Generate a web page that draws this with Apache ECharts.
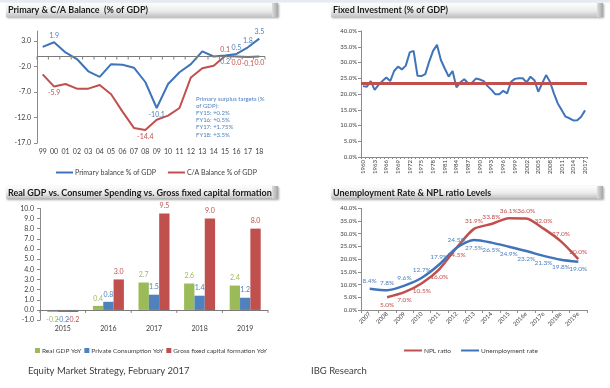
<!DOCTYPE html>
<html><head><meta charset="utf-8">
<script src="https://cdn.jsdelivr.net/npm/echarts@6.0.0/dist/echarts.min.js"></script>
<style>html,body{margin:0;padding:0;background:#fff;}#chart{width:610px;height:388px;}</style>
</head><body><div id="chart"></div>
<script>
// ---- Panel 1: Primary & C/A balance (% of GDP)
const balYears = ['99','00','01','02','03','04','05','06','07','08','09','10','11','12','13','14','15','16','17','18'];
const primaryBalance = [1.9, 2.8, 0.8, -0.5, -2.9, -4.0, -1.5, -1.6, -2.2, -5.0, -10.1, -5.4, -3.1, -1.5, 1.0, 0.0, 0.2, 0.5, 1.8, 3.5];
const primaryLabels = ['', '1.9', '', '', '', '', '', '', '', '', '-10.1', '', '', '', '', '', '0.2', '0.5', '1.8', '3.5'];
const caBalance = [-3.5, -5.9, -5.4, -6.3, -6.3, -5.6, -7.4, -10.8, -14.0, -14.4, -12.4, -11.6, -10.1, -4.1, -2.3, -1.8, 0.1, 0.0, -0.1, 0.0];
const caLabels = ['', '-5.9', '', '', '', '', '', '', '', '-14.4', '', '', '', '', '', '', '0.1', '0.0', '-0.1', '0.0'];
const balTicks = [-17, -12, -7, -2, 3];
const zeroTick = [0];
const targetNote = ['Primary surplus targets (%', 'of GDP):', 'FY15: +0.2%', 'FY16: +0.5%', 'FY17: +1.75%', 'FY18: +3.5%'];

// ---- Panel 2: Fixed investment (% of GDP)
const fiYears = ['1960','1961','1962','1963','1964','1965','1966','1967','1968','1969',
  '1970','1971','1972','1973','1974','1975','1976','1977','1978','1979',
  '1980','1981','1982','1983','1984','1985','1986','1987','1988','1989',
  '1990','1991','1992','1993','1994','1995','1996','1997','1998','1999',
  '2000','2001','2002','2003','2004','2005','2006','2007','2008','2009',
  '2010','2011','2012','2013','2014','2015','2016','2017'];
const fixedInvestment = [22.5, 22.3, 24.1, 21.3, 22.9, 24.1, 25.2, 24.1, 27.3, 28.7,
  27.8, 29.0, 33.2, 33.7, 25.8, 25.7, 26.3, 30.3, 33.7, 35.6,
  30.8, 28.1, 25.5, 27.3, 22.1, 23.7, 24.7, 23.4, 23.6, 24.9,
  24.6, 24.1, 22.5, 21.3, 19.9, 19.9, 21.0, 20.2, 23.9, 24.8,
  25.0, 25.0, 23.7, 25.5, 24.4, 20.7, 23.4, 26.0, 23.9, 20.2,
  17.0, 14.9, 12.8, 12.3, 11.6, 11.7, 12.8, 14.8];
const fiAverage = 23.3;

// ---- Panel 3: Real GDP vs consumer spending vs GFCF
const gdpYears = ['2015', '2016', '2017', '2018', '2019'];
const realGdp = [-0.2, 0.4, 2.7, 2.6, 2.4];
const privateConsumption = [-0.2, 0.8, 1.5, 1.4, 1.2];
const grossFixedCapital = [-0.2, 3.0, 9.5, 9.0, 8.0];

// ---- Panel 4: Unemployment rate & NPL ratio
const unYears = ['2007','2008','2009','2010','2011','2012','2013','2014','2015','2016e','2017e','2018e','2019e'];
const nplRatio = [null, 5.0, 7.0, 10.5, 16.0, 24.5, 31.9, 33.8, 36.1, 36.0, 32.0, 27.0, 20.0];
const unemploymentRate = [8.4, 7.8, 9.6, 12.7, 17.9, 24.5, 27.5, 26.5, 24.9, 23.2, 21.3, 19.8, 19.0];

// ---- Footer texts
const footerLeft = 'Equity Market Strategy, February 2017';
const footerRight = 'IBG Research';

const FONT = 'Lato, "Open Sans", "DejaVu Sans", sans-serif';
const AX = '#8c8c8c', TXT = '#404040';
const BLUE = '#3f74ba', RED = '#c0504d', GREEN = '#9bbb59', BBLUE = '#4f81bd';

function pointLabels(values, texts, posOf, color) {
  return values.map((v, i) => {
    if (!texts[i]) return v;
    return { value: v, label: { show: true, position: posOf(i), formatter: texts[i], color: color, fontSize: 7, distance: 3 } };
  });
}
function barItems(values) {
  return values.map(v => ({ value: v, label: { position: v < 0 ? 'bottom' : 'top' } }));
}
function pctItems(values, posOf) {
  return values.map((v, i) => v == null ? null : { value: v, label: { position: posOf(i) } });
}
function titleBar(x, y, w, h, text) {
  return { type: 'group', children: [
    { type: 'rect', shape: { x: x, y: y, width: w, height: h },
      style: { fill: new echarts.graphic.LinearGradient(0, 0, 0, 1, [
        { offset: 0, color: '#fdfdfd' }, { offset: 0.55, color: '#ececec' }, { offset: 1, color: '#c2c2c2' }]),
        shadowBlur: 2, shadowColor: 'rgba(0,0,0,0.35)', shadowOffsetX: 1, shadowOffsetY: 1 } },
    { type: 'rect', shape: { x: x + w - 6, y: y, width: 6, height: h },
      style: { fill: new echarts.graphic.LinearGradient(0, 0, 1, 0, [
        { offset: 0, color: '#dedede' }, { offset: 1, color: '#a5a5a5' }]) } },
    { type: 'text', style: { text: text, x: x + 2, y: y + h / 2 + 0.5, verticalAlign: 'middle',
      font: 'bold 9px ' + FONT, fill: '#1a1a1a' } }
  ] };
}
// category-boundary ticks hanging below the zero line, placed through the chart's scales
function zeroTickSeries(cats, xIdx, yIdx) {
  const n = cats.length;
  return {
    type: 'custom', xAxisIndex: xIdx, yAxisIndex: yIdx, silent: true, z: 5,
    data: cats.map((c, i) => [i, 0]),
    renderItem: function (params, api) {
      const p = api.coord([api.value(0), 0]);
      const w = api.size([1, 0])[0];
      const x0 = p[0] - w / 2, x1 = p[0] + w / 2;
      const st = { stroke: '#7f7f7f', lineWidth: 1 };
      const kids = [{ type: 'line', shape: { x1: x0, y1: p[1], x2: x0, y2: p[1] + 3 }, style: st }];
      if (params.dataIndex === n - 1) kids.push({ type: 'line', shape: { x1: x1, y1: p[1], x2: x1, y2: p[1] + 3 }, style: st });
      return { type: 'group', children: kids };
    }
  };
}
function zeroLine() {
  return { silent: true, symbol: ['none', 'none'], label: { show: false },
    lineStyle: { color: '#7a7a7a', width: 1, type: 'solid' }, data: [{ yAxis: 0 }] };
}
// hidden helper value axis whose only split line sits at zero
function zeroAxis(gridIndex, min, max) {
  return { gridIndex: gridIndex, type: 'value', min: min, max: max, position: 'right',
    axisLine: { show: false }, axisLabel: { show: false },
    axisTick: { show: false, customValues: zeroTick },
    splitLine: { show: true, lineStyle: { color: '#7a7a7a', width: 1, type: 'solid' } } };
}

const chart = echarts.init(document.getElementById('chart'));
const axisLbl = (size) => ({ fontSize: size, color: TXT, fontFamily: FONT });

chart.setOption({
  animation: false,
  textStyle: { fontFamily: FONT },
  grid: [
    { left: 37, top: 31, width: 228, height: 112.2 },
    { left: 361, top: 31, width: 226, height: 126 },
    { left: 40, top: 208.3, width: 228, height: 111.8 },
    { left: 361, top: 208.3, width: 226, height: 101.7 }
  ],
  xAxis: [
    { gridIndex: 0, type: 'category', data: balYears, position: 'bottom',
      axisLine: { show: false, onZero: false }, axisTick: { show: false },
      axisLabel: Object.assign(axisLbl(7), { interval: 0, margin: 5 }) },
    { gridIndex: 1, type: 'category', data: fiYears, position: 'bottom',
      axisLine: { lineStyle: { color: AX } },
      axisTick: { show: true, interval: 0, length: 2, lineStyle: { color: AX } },
      axisLabel: Object.assign(axisLbl(6), { interval: 2, rotate: 90, margin: 3 }) },
    { gridIndex: 2, type: 'category', data: gdpYears, position: 'bottom',
      axisLine: { show: false, onZero: false }, axisTick: { show: false },
      axisLabel: Object.assign(axisLbl(7), { margin: 5 }) },
    { gridIndex: 3, type: 'category', data: unYears, position: 'bottom',
      axisLine: { lineStyle: { color: AX } },
      axisTick: { show: true, length: 3, lineStyle: { color: AX } },
      axisLabel: Object.assign(axisLbl(6), { interval: 0, rotate: 45, margin: 3 }) }
  ],
  yAxis: [
    { gridIndex: 0, type: 'value', min: -17, max: 5,
      axisLine: { show: true, lineStyle: { color: AX } },
      axisTick: { show: true, length: 3, customValues: balTicks, lineStyle: { color: AX } },
      splitLine: { show: false },
      axisLabel: Object.assign(axisLbl(7), { customValues: balTicks, margin: 6, formatter: v => v.toFixed(1) }) },
    { gridIndex: 1, type: 'value', min: 0, max: 40, interval: 5,
      axisLine: { show: true, lineStyle: { color: AX } },
      axisTick: { show: true, length: 3, lineStyle: { color: AX } },
      splitLine: { show: false },
      axisLabel: Object.assign(axisLbl(6), { margin: 4, formatter: v => v.toFixed(1) + '%' }) },
    { gridIndex: 2, type: 'value', min: -1, max: 10, interval: 1,
      axisLine: { show: true, lineStyle: { color: AX } },
      axisTick: { show: true, length: 3, lineStyle: { color: AX } },
      splitLine: { show: false },
      axisLabel: Object.assign(axisLbl(7), { margin: 6, formatter: v => v.toFixed(1) }) },
    { gridIndex: 3, type: 'value', min: 0, max: 40, interval: 5,
      axisLine: { show: true, lineStyle: { color: AX } },
      axisTick: { show: true, length: 3, lineStyle: { color: AX } },
      splitLine: { show: false },
      axisLabel: Object.assign(axisLbl(6), { margin: 4, formatter: v => v.toFixed(1) + '%' }) },
    zeroAxis(0, -17, 5),
    zeroAxis(2, -1, 10)
  ],
  legend: [
    { data: [{ name: 'Primary balance % of GDP', itemStyle: { color: BLUE } }, { name: 'C/A Balance % of GDP', itemStyle: { color: RED } }],
      left: 51, top: 164, icon: 'rect', itemWidth: 17, itemHeight: 2, itemGap: 12,
      textStyle: { fontSize: 7, color: TXT, fontFamily: FONT, padding: [0, 0, 0, -3] } },
    { data: ['Real GDP YoY', 'Private Consumption YoY', 'Gross fixed capital formation YoY'],
      left: 30, top: 342, icon: 'rect', itemWidth: 5, itemHeight: 5, itemGap: 3,
      textStyle: { fontSize: 6.5, color: TXT, fontFamily: FONT, padding: [0, 0, 0, -3] } },
    { data: [{ name: 'NPL ratio', itemStyle: { color: RED } }, { name: 'Unemployment rate', itemStyle: { color: BLUE } }],
      left: 399, top: 342, icon: 'rect', itemWidth: 18, itemHeight: 2, itemGap: 10,
      textStyle: { fontSize: 6.5, color: TXT, fontFamily: FONT, padding: [0, 0, 0, -3] } }
  ],
  series: [
    { name: 'Primary balance % of GDP', type: 'line', xAxisIndex: 0, yAxisIndex: 0,
      data: pointLabels(primaryBalance, primaryLabels, i => (i === 10 || i === 16) ? 'bottom' : 'top', '#4f81bd'),
      symbol: 'circle', symbolSize: 0, lineStyle: { color: BLUE, width: 2 }, itemStyle: { color: BLUE }, z: 4,
      markLine: zeroLine() },
    { name: 'C/A Balance % of GDP', type: 'line', xAxisIndex: 0, yAxisIndex: 0,
      data: pointLabels(caBalance, caLabels, i => i === 16 ? 'top' : 'bottom', RED),
      symbol: 'circle', symbolSize: 0, lineStyle: { color: RED, width: 2 }, itemStyle: { color: RED }, z: 3 },
    { name: 'Fixed investment', type: 'line', xAxisIndex: 1, yAxisIndex: 1, data: fixedInvestment,
      symbol: 'none', lineStyle: { color: BLUE, width: 2 }, itemStyle: { color: BLUE },
      markLine: { silent: true, symbol: ['none', 'none'], label: { show: false },
        lineStyle: { color: RED, width: 3, type: 'solid' }, data: [{ yAxis: fiAverage }] } },
    { name: 'Real GDP YoY', type: 'bar', xAxisIndex: 2, yAxisIndex: 2, data: barItems(realGdp),
      itemStyle: { color: GREEN }, barGap: '0%', barCategoryGap: '32%', z: 2,
      label: { show: true, fontSize: 7, color: GREEN, distance: 4, formatter: p => p.value.toFixed(1) },
      markLine: zeroLine() },
    { name: 'Private Consumption YoY', type: 'bar', xAxisIndex: 2, yAxisIndex: 2, data: barItems(privateConsumption),
      itemStyle: { color: BBLUE }, barGap: '0%', barCategoryGap: '32%', z: 2,
      label: { show: true, fontSize: 7, color: BBLUE, distance: 4, formatter: p => p.value.toFixed(1) } },
    { name: 'Gross fixed capital formation YoY', type: 'bar', xAxisIndex: 2, yAxisIndex: 2, data: barItems(grossFixedCapital),
      itemStyle: { color: RED }, barGap: '0%', barCategoryGap: '32%', z: 2,
      label: { show: true, fontSize: 7, color: RED, distance: 4, formatter: p => p.value.toFixed(1) } },
    { name: 'NPL ratio', type: 'line', xAxisIndex: 3, yAxisIndex: 3,
      data: pctItems(nplRatio, i => i <= 5 ? 'bottom' : 'top'), smooth: 0.25,
      symbol: 'circle', symbolSize: 0, lineStyle: { color: RED, width: 2.5 }, itemStyle: { color: RED },
      label: { show: true, fontSize: 6.5, color: RED, distance: 4, formatter: p => p.value.toFixed(1) + '%' } },
    { name: 'Unemployment rate', type: 'line', xAxisIndex: 3, yAxisIndex: 3,
      data: pctItems(unemploymentRate, i => i <= 5 ? 'top' : 'bottom'), smooth: 0.25,
      symbol: 'circle', symbolSize: 0, lineStyle: { color: BLUE, width: 2.5 }, itemStyle: { color: BLUE },
      label: { show: true, fontSize: 6.5, color: '#4f81bd', distance: 4, formatter: p => p.value.toFixed(1) + '%' } },
    zeroTickSeries(balYears, 0, 0),
    zeroTickSeries(gdpYears, 2, 2)
  ],
  graphic: [
    { type: 'rect', shape: { x: 0, y: 0, width: 610, height: 2.5 }, style: { fill: '#e6eaf1' } },
    titleBar(6, 3, 272, 14, 'Primary & C/A Balance  (% of GDP)'),
    titleBar(331, 3, 272, 14, 'Fixed Investment (% of GDP)'),
    titleBar(6, 186, 272, 12.5, 'Real GDP vs. Consumer Spending vs. Gross fixed capital formation'),
    titleBar(331, 186, 272, 12.5, 'Unemployment Rate & NPL ratio Levels'),
    { type: 'text', style: { text: targetNote.join('\n'), x: 196, y: 95, font: '6px ' + FONT,
      fill: '#4f81bd', lineHeight: 7.2 } },
    { type: 'text', style: { text: footerLeft, x: 28, y: 371, verticalAlign: 'middle', font: '9.5px ' + FONT, fill: TXT } },
    { type: 'text', style: { text: footerRight, x: 311, y: 371, verticalAlign: 'middle', font: '9.5px ' + FONT, fill: TXT } }
  ]
});
</script>
</body></html>
